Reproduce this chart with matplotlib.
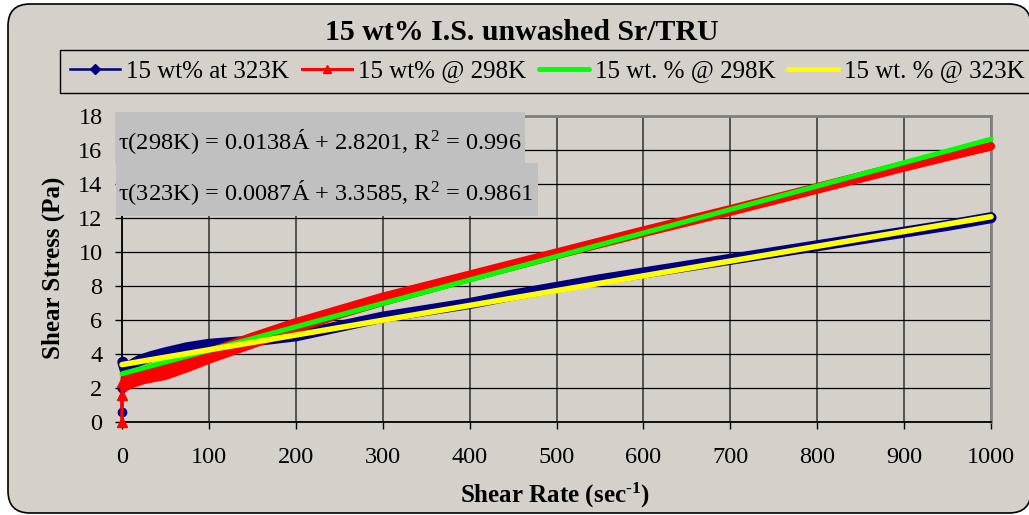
import matplotlib
matplotlib.use('Agg')
import matplotlib.pyplot as plt
from matplotlib.lines import Line2D
from matplotlib.patches import FancyBboxPatch, Rectangle
from matplotlib.transforms import IdentityTransform

plt.rcParams['font.family'] = ['Liberation Serif', 'DejaVu Serif']
plt.rcParams['mathtext.fontset'] = 'custom'
plt.rcParams['mathtext.rm'] = 'Liberation Serif'
plt.rcParams['mathtext.it'] = 'Liberation Serif:italic'
plt.rcParams['mathtext.bf'] = 'Liberation Serif:bold'

# measured flow curve at 323K
rate_323 = [0, 0, 1, 4, 10, 20, 35, 50, 75, 100, 125, 150, 175, 200, 250, 300,
            350, 400, 450, 500, 550, 600, 650, 700, 750, 800, 850, 900, 950, 1000]
stress_323 = [0.55, 2.0, 3.5, 3.0, 3.3, 3.6, 3.85, 4.05, 4.35, 4.55, 4.65, 4.75, 4.9, 5.05, 5.6, 6.15,
              6.55, 6.95, 7.45, 7.9, 8.35, 8.75, 9.15, 9.55, 9.95, 10.35, 10.75, 11.15, 11.55, 12.0]

# measured flow curve at 298K (ramp up then ramp down)
rate_298 = [0, 0, 0, 3, 10, 25, 50, 75, 100, 150, 200, 250, 300, 400, 500, 600, 700, 800, 900, 1000,
            900, 800, 700, 600, 500, 400, 300, 250, 200, 150, 100, 75, 50, 25, 10, 3]
stress_298 = [0, 1.6, 2.35, 2.0, 2.2, 2.45, 2.7, 3.15, 3.65, 4.55, 5.45, 6.3, 7.05, 8.45, 9.8, 11.1, 12.35, 13.65, 14.95, 16.2,
              15.1, 13.8, 12.5, 11.25, 9.95, 8.65, 7.35, 6.6, 5.85, 5.0, 4.1, 3.6, 3.15, 2.8, 2.65, 2.55]

# linear fits
slope_298, icpt_298, r2_298 = 0.0138, 2.8201, 0.996
slope_323, icpt_323, r2_323 = 0.0087, 3.3585, 0.9861
fit_range = [0, 1000]

series_names = ['15 wt% at 323K', '15 wt% @ 298K', '15 wt. % @ 298K', '15 wt. % @ 323K']

W, H = 1029, 515
fx = lambda px: px / W
fy = lambda py: 1 - py / H

bg = '#D6D0CA'
fig = plt.figure(figsize=(W / 100, H / 100), dpi=100, facecolor='white')

# rounded chart border
fig.add_artist(FancyBboxPatch((8, 2), 1023, 509, boxstyle='round,pad=0,rounding_size=22',
                              transform=IdentityTransform(), facecolor=bg, edgecolor='black',
                              linewidth=1.2, zorder=-5))

ax = fig.add_axes([fx(122), fy(421.7), fx(991) - fx(122), fy(115.7) - fy(421.7)])
ax.set_facecolor('none')

# dense part of each curve drawn as a wide band, start-up points thin with markers
ax.plot(rate_323[2:], stress_323[2:], color='#000080', lw=8,
        solid_joinstyle='round', solid_capstyle='round', zorder=3, clip_on=False)
ax.plot(rate_323[:4], stress_323[:4], color='#000080', lw=2, marker='o', ms=6,
        markevery=[0, 1, 2], zorder=3, clip_on=False)
ax.plot(rate_298[3:], stress_298[3:], color='#FF0000', lw=6, solid_joinstyle='round',
        solid_capstyle='round', zorder=4, clip_on=False)
ax.plot(rate_298[:4], stress_298[:4], color='#FF0000', lw=2.5, marker='^', ms=7,
        markevery=[0, 1, 2], zorder=4, clip_on=False)

fit_298 = [slope_298 * x + icpt_298 for x in fit_range]
fit_323 = [slope_323 * x + icpt_323 for x in fit_range]
ax.plot(fit_range, fit_298, color='#00FF00', lw=3.6, solid_capstyle='round', zorder=5, clip_on=False)
ax.plot(fit_range, fit_323, color='#FFFF00', lw=4, solid_capstyle='round', zorder=6, clip_on=False)

ax.set_xlim(0, 1000)
ax.set_ylim(0, 18)
ax.set_xticks(range(0, 1001, 100))
ax.set_yticks(range(0, 19, 2))
ax.tick_params(labelsize=17.5, length=5, width=1, color='black')
ax.tick_params(axis='x', pad=13)
ax.tick_params(axis='y', pad=9)

ax.grid(axis='y', color='black', lw=0.9, zorder=1)
ax.grid(axis='x', color='#484848', lw=1.3, zorder=1)
ax.set_axisbelow(True)
for side in ['top', 'right']:
    ax.spines[side].set_color('#808080')
    ax.spines[side].set_linewidth(2)
for side in ['left', 'bottom']:
    ax.spines[side].set_color('black')
    ax.spines[side].set_linewidth(1.3)

# equation boxes
fig.add_artist(Rectangle((115, H - 163), 410, 51, transform=IdentityTransform(),
                         facecolor='#C0C0C0', edgecolor='none', zorder=2))
fig.add_artist(Rectangle((116, H - 216), 422, 53, transform=IdentityTransform(),
                         facecolor='#C0C0C0', edgecolor='none', zorder=2))
fig.text(fx(118), fy(149.5), f'τ(298K) = {slope_298}Á + {icpt_298}, R$^2$ = {r2_298}',
         fontsize=17.6, va='baseline', ha='left', zorder=3)
fig.text(fx(118), fy(200), f'τ(323K) = {slope_323}Á + {icpt_323}, R$^2$ = {r2_323}',
         fontsize=17.6, va='baseline', ha='left', zorder=3)

fig.text(fx(522), fy(40), '15 wt% I.S. unwashed Sr/TRU', fontsize=21.5, fontweight='bold',
         ha='center', va='baseline')
fig.text(fx(555), fy(503), 'Shear Rate (sec$^{\\mathbf{‐1}}$)', fontsize=18, fontweight='bold',
         ha='center', va='baseline')
fig.text(fx(53), fy(268), 'Shear Stress (Pa)', fontsize=18, fontweight='bold',
         ha='center', va='center', rotation=90)

handles = [
    Line2D([], [], color='#000080', lw=1.8, marker='D', ms=5),
    Line2D([], [], color='#FF0000', lw=2.2, marker='^', ms=6),
    Line2D([], [], color='#00FF00', lw=3.5, solid_capstyle='round'),
    Line2D([], [], color='#FFFF00', lw=3.5, solid_capstyle='round'),
]
leg = fig.legend(handles, series_names, loc='upper left', bbox_to_anchor=(fx(60), fy(50)),
                 bbox_transform=fig.transFigure, ncol=4, fontsize=18, frameon=True,
                 fancybox=False, framealpha=1, edgecolor='black', facecolor=bg,
                 borderaxespad=0, borderpad=0.4, handlelength=2.0, handletextpad=0.25,
                 columnspacing=0.5)
leg.get_frame().set_linewidth(1.0)

fig.savefig('out.png', dpi=100, facecolor=fig.get_facecolor())
